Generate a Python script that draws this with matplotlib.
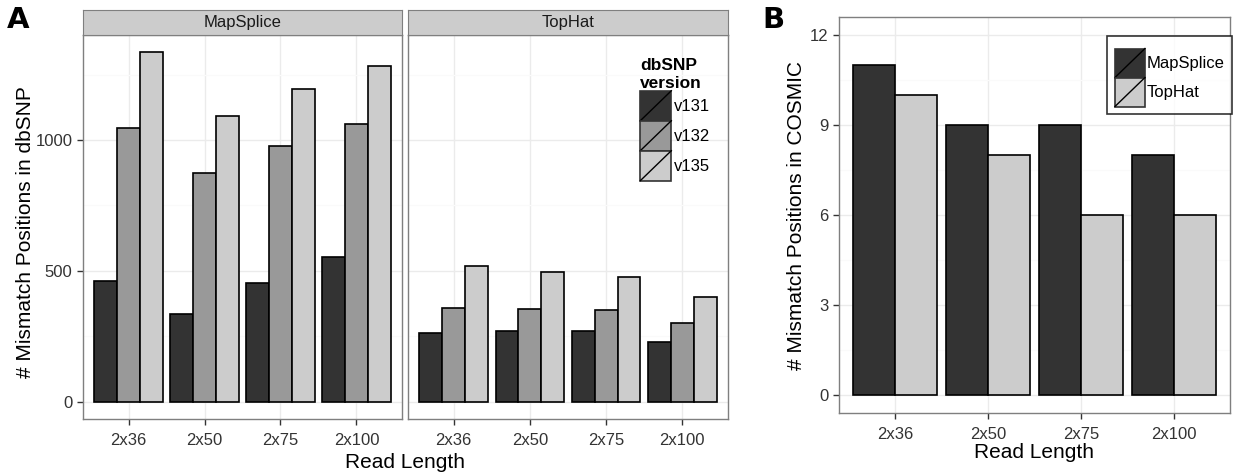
import numpy as np
import matplotlib
matplotlib.use("Agg")
import matplotlib.pyplot as plt
from matplotlib.patches import Rectangle
from matplotlib.lines import Line2D
from matplotlib.legend_handler import HandlerPatch

plt.rcParams["font.family"] = ["Liberation Sans", "DejaVu Sans"]

# --- dane ---
read_len = ["2x36", "2x50", "2x75", "2x100"]
versions = ["v131", "v132", "v135"]
mapsplice_dbsnp = {
    "v131": [462, 335, 452, 551],
    "v132": [1047, 874, 976, 1062],
    "v135": [1335, 1093, 1197, 1284],
}
tophat_dbsnp = {
    "v131": [263, 271, 270, 226],
    "v132": [357, 355, 351, 300],
    "v135": [520, 497, 478, 401],
}
aligners = ["MapSplice", "TopHat"]
cosmic = {
    "MapSplice": [11, 9, 9, 8],
    "TopHat": [10, 8, 6, 6],
}

kolory_v = {"v131": "#333333", "v132": "#999999", "v135": "#CCCCCC"}
kolory_a = {"MapSplice": "#333333", "TopHat": "#CCCCCC"}

W, H = 1238, 475
fig = plt.figure(figsize=(W / 100, H / 100), dpi=100)


def osie(x0, y0, x1, y1):
    return fig.add_axes([x0 / W, 1 - y1 / H, (x1 - x0) / W, (y1 - y0) / H])


def styl_bw(ax, major, minor):
    ax.set_facecolor("white")
    for s in ax.spines.values():
        s.set_color("#7F7F7F")
        s.set_linewidth(1.0)
    ax.set_yticks(major)
    ax.set_yticks(minor, minor=True)
    ax.grid(True, which="major", color="#EBEBEB", linewidth=1.0)
    ax.grid(True, which="minor", axis="y", color="#FAFAFA", linewidth=1.0)
    ax.set_axisbelow(True)
    ax.tick_params(axis="both", which="major", direction="out", length=4,
                   color="#333333", labelsize=12, labelcolor="#333333", width=1)
    ax.tick_params(axis="x", which="major", pad=6)
    ax.tick_params(which="minor", length=0)


class HandlerKlucz(HandlerPatch):
    def create_artists(self, legend, orig_handle, xdescent, ydescent,
                       width, height, fontsize, trans):
        r = Rectangle((-xdescent, -ydescent), width, height,
                      facecolor=orig_handle.get_facecolor(),
                      edgecolor="#333333", linewidth=1.2, transform=trans)
        ln = Line2D([-xdescent, -xdescent + width], [-ydescent, -ydescent + height],
                    color="black", linewidth=1.0, transform=trans)
        return [r, ln]


x = np.arange(len(read_len))

# ========== panel A ==========
facety = [("MapSplice", mapsplice_dbsnp, 83, 402), ("TopHat", tophat_dbsnp, 408, 728)]
for i, (nazwa, dane, x0, x1) in enumerate(facety):
    ax = osie(x0, 35, x1, 419)
    szer = 0.3
    for j, v in enumerate(versions):
        ax.bar(x + (j - 1) * szer, dane[v], width=szer, color=kolory_v[v],
               edgecolor="black", linewidth=1.2, zorder=3)
    ax.set_xlim(-0.6, 3.6)
    ax.set_ylim(-66.75, 1401.75)
    styl_bw(ax, [0, 500, 1000], [250, 750, 1250])
    ax.set_xticks(x)
    ax.set_xticklabels(read_len)
    if i == 1:
        ax.tick_params(axis="y", which="major", length=0, labelleft=False)
    # pasek z nazwą
    st = osie(x0, 10, x1, 35)
    st.set_facecolor("#CCCCCC")
    st.set_xticks([])
    st.set_yticks([])
    for s in st.spines.values():
        s.set_color("#7F7F7F")
    st.text(0.5, 0.5, nazwa, ha="center", va="center", fontsize=12, color="#1A1A1A",
            transform=st.transAxes)

fig.text(26 / W, 1 - 232 / H, "# Mismatch Positions in dbSNP", rotation=90,
         ha="center", va="center", fontsize=15)
fig.text(405 / W, 1 - 462 / H, "Read Length", ha="center", va="center", fontsize=15)
fig.text(7 / W, 1 - 20 / H, "A", ha="left", va="center", fontsize=21,
         fontweight="heavy", family="DejaVu Sans")

uchwyty = [Rectangle((0, 0), 1, 1, facecolor=kolory_v[v]) for v in versions]
leg = fig.legend(uchwyty, versions, loc="upper left",
                 bbox_to_anchor=(627 / W, 1 - 45 / H), frameon=False,
                 title="dbSNP\nversion", fontsize=12,
                 title_fontproperties={"weight": "bold", "size": 12.5},
                 alignment="left", handlelength=1.86, handleheight=2.39,
                 labelspacing=0.0, handletextpad=0.15, borderpad=0.3,
                 handler_map={Rectangle: HandlerKlucz()})

# ========== panel B ==========
axb = osie(839, 17, 1230, 413)
szer = 0.45
for j, a in enumerate(aligners):
    axb.bar(x + (j - 0.5) * szer, cosmic[a], width=szer, color=kolory_a[a],
            edgecolor="black", linewidth=1.2, zorder=3)
axb.set_xlim(-0.6, 3.6)
axb.set_ylim(-0.6, 12.6)
styl_bw(axb, [0, 3, 6, 9, 12], [1.5, 4.5, 7.5, 10.5])
axb.set_xticks(x)
axb.set_xticklabels(read_len)
axb.set_ylabel("# Mismatch Positions in COSMIC", fontsize=15, labelpad=3)
axb.set_xlabel("Read Length", fontsize=15, labelpad=1)
fig.text(762 / W, 1 - 20 / H, "B", ha="left", va="center", fontsize=21,
         fontweight="heavy", family="DejaVu Sans")

uchwyty_b = [Rectangle((0, 0), 1, 1, facecolor=kolory_a[a]) for a in aligners]
legb = axb.legend(uchwyty_b, aligners, loc="upper right",
                  bbox_to_anchor=(1232 / W, 1 - 36 / H), bbox_transform=fig.transFigure,
                  frameon=True, fancybox=False, edgecolor="black", fontsize=12,
                  title=" ", title_fontsize=4,
                  handlelength=1.8, handleheight=2.3, labelspacing=0.0,
                  handletextpad=0.1, borderpad=0.45, borderaxespad=0,
                  handler_map={Rectangle: HandlerKlucz()})
legb.get_frame().set_linewidth(1.2)

fig.savefig("out.png", dpi=100)
